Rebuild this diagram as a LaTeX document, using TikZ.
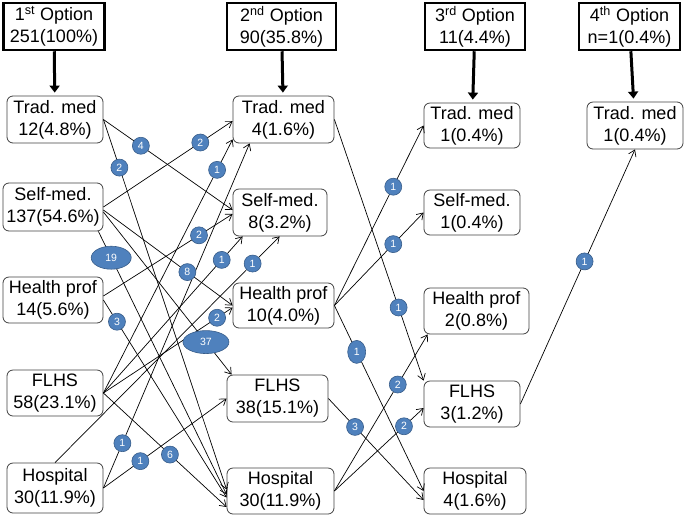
\documentclass[tikz,border=0pt]{standalone}
\usepackage{fontspec}
\setmainfont{Liberation Sans}
\usetikzlibrary{arrows.meta,shapes.geometric}
\definecolor{azul}{RGB}{79,129,189}
\definecolor{azulosc}{RGB}{56,93,138}

\begin{document}
\begin{tikzpicture}[x=1pt,y=-1pt,
  opcion/.style={draw, line width=2.5pt, inner sep=0pt, align=center,
    minimum height=47pt, font=\fontsize{18}{22}\selectfont},
  caja/.style={draw=black!75, rounded corners=6pt, line width=0.8pt,
    inner sep=0pt, align=center, minimum height=46pt,
    font=\fontsize{18}{22}\selectfont},
  bajada/.style={-{Triangle[length=7pt,width=10pt]}, line width=3pt, shorten >=3pt},
  flecha/.style={-{Straight Barb[length=6pt,width=8pt]}, line width=0.7pt},
  cifra/.style={circle, fill=azul, draw=azulosc, line width=0.6pt, text=white,
    inner sep=0pt, minimum size=17pt, font=\fontsize{10.5}{10.5}\selectfont},
  cifrag/.style={cifra, ellipse, minimum width=42pt, minimum height=23pt},
]
\useasboundingbox (0,0) rectangle (685,515);

\node[opcion, minimum width=101pt] (op1) at (54,26.5) {1\textsuperscript{st} Option\\251(100\%)};
\node[opcion, minimum width=109pt] (op2) at (281.5,26.5) {2\textsuperscript{nd} Option\\90(35.8\%)};
\node[opcion, minimum width=100pt] (op3) at (475,26.5) {3\textsuperscript{rd} Option\\11(4.4\%)};
\node[opcion, minimum width=101pt] (op4) at (629.5,26.5) {4\textsuperscript{th} Option\\n=1(0.4\%)};

\node[caja, minimum width=96pt, minimum height=47pt] (trad1) at (55,119.5) {Trad. med\\12(4.8\%)};
\node[caja, minimum width=100pt, minimum height=48pt] (self1) at (53,207) {Self-med.\\137(54.6\%)};
\node[caja, minimum width=100pt] (hp1) at (53,300) {Health prof\\14(5.6\%)};
\node[caja, minimum width=96pt] (flhs1) at (55,393) {FLHS\\58(23.1\%)};
\node[caja, minimum width=96pt, minimum height=50pt] (hosp1) at (55,488) {Hospital\\30(11.9\%)};

\node[caja, minimum width=101pt, minimum height=47pt] (trad2) at (283.5,119.5) {Trad. med\\4(1.6\%)};
\node[caja, minimum width=94pt, minimum height=47pt] (self2) at (280,212.5) {Self-med.\\8(3.2\%)};
\node[caja, minimum width=101pt, minimum height=45pt] (hp2) at (283.5,305.5) {Health prof\\10(4.0\%)};
\node[caja, minimum width=101pt, minimum height=47pt] (flhs2) at (277.5,398.5) {FLHS\\38(15.1\%)};
\node[caja, minimum width=107pt] (hosp2) at (280.5,491) {Hospital\\30(11.9\%)};

\node[caja, minimum width=96pt, minimum height=45pt] (trad3) at (472,125.5) {Trad. med\\1(0.4\%)};
\node[caja, minimum width=96pt, minimum height=45pt] (self3) at (472,212.5) {Self-med.\\1(0.4\%)};
\node[caja, minimum width=105pt] (hp3) at (476.5,311) {Health prof\\2(0.8\%)};
\node[caja, minimum width=96pt] (flhs3) at (472,404) {FLHS\\3(1.2\%)};
\node[caja, minimum width=102pt] (hosp3) at (475,491) {Hospital\\4(1.6\%)};

\node[caja, minimum width=96pt, minimum height=47pt] (trad4) at (635,125.5) {Trad. med\\1(0.4\%)};

\foreach \i/\j in {op1/trad1, op2/trad2, op3/trad3, op4/trad4}
  \draw[bajada] (\i) -- (\j);

\draw[flecha] (trad1.east) -- coordinate[pos=.29] (c1) ([yshift=2.5pt]self2.west);
\draw[flecha] (trad1.east) -- coordinate[pos=.13] (c2) ([yshift=1.5pt]hosp2.west);
\draw[flecha] (self1.east) -- coordinate[pos=.75] (c3) ([yshift=-1.5pt]trad2.west);
\draw[flecha] ([yshift=-3pt]self1.east) -- coordinate[pos=.65] (c4) (hp2.west);
\draw[flecha] ([yshift=-5pt]self1.east) -- coordinate[pos=.8] (c5) ([xshift=5pt]flhs2.north west);
\draw[flecha] ([xshift=-5pt]self1.south east) -- coordinate[pos=.1] (c6) ([yshift=-3.5pt]hosp2.west);
\draw[flecha] (hp1.east) -- coordinate[pos=.11] (c7) ([yshift=-6.5pt]hosp2.west);
\draw[flecha] ([yshift=4pt]hp1.east) -- coordinate[pos=.74] (c8) ([yshift=-1.5pt]self2.west);
\draw[flecha] (flhs1.east) -- coordinate[pos=.88] (c9) ([yshift=4pt]trad2.south west);
\draw[flecha] (flhs1.east) -- coordinate[pos=.85] (c10) ([xshift=10pt]self2.south west);
\draw[flecha] (flhs1.east) -- coordinate[pos=.88] (c11) ([yshift=-2pt]hp2.west);
\draw[flecha] (hosp1.north) -- coordinate[pos=.88] (c12) ([xshift=47pt]self2.south west);
\draw[flecha] (hosp1.east) -- coordinate[pos=.13] (c13) ([xshift=17pt]trad2.south west);
\draw[flecha] (hosp1.east) -- coordinate[pos=.3] (c14) (flhs2.west);
\draw[flecha] (flhs1.east) -- coordinate[pos=.54] (c15) ([yshift=-16pt]hosp2.west);

\draw[flecha] (hp2.east) -- coordinate[pos=.66] (d1) (trad3.west);
\draw[flecha] (hp2.east) -- coordinate[pos=.66] (d2) (self3.west);
\draw[flecha] (trad2.east) -- coordinate[pos=.72] (d3) (flhs3.north west);
\draw[flecha] (hp2.east) -- coordinate[pos=.25] (d4) (hosp3.west);
\draw[flecha] (flhs2.east) -- coordinate[pos=.28] (d5) ([yshift=-9pt]hosp3.west);
\draw[flecha] (hosp2.east) -- coordinate[pos=.68] (d6) ([xshift=4pt]hp3.south west);
\draw[flecha] (hosp2.east) -- coordinate[pos=.78] (d7) ([yshift=-4pt]flhs3.west);
\draw[flecha] (flhs3.east) -- coordinate[pos=.56] (e1) (trad4.south);

\foreach \c/\n in {c1/4, c2/2, c3/2, c4/8, c7/3, c8/2, c9/1, c10/1, c11/2,
  c12/1, c13/1, c14/1, c15/6, d1/1, d2/1, d3/1, d5/3, d6/2, d7/2, e1/1}
  \node[cifra] at (\c) {\n};
\node[cifrag, minimum width=40pt] at (c6) {19};
\node[cifrag, minimum width=46pt] at (c5) {37};
\node[cifra, ellipse, minimum width=18pt, minimum height=23pt] at (d4) {1};
\end{tikzpicture}
\end{document}
